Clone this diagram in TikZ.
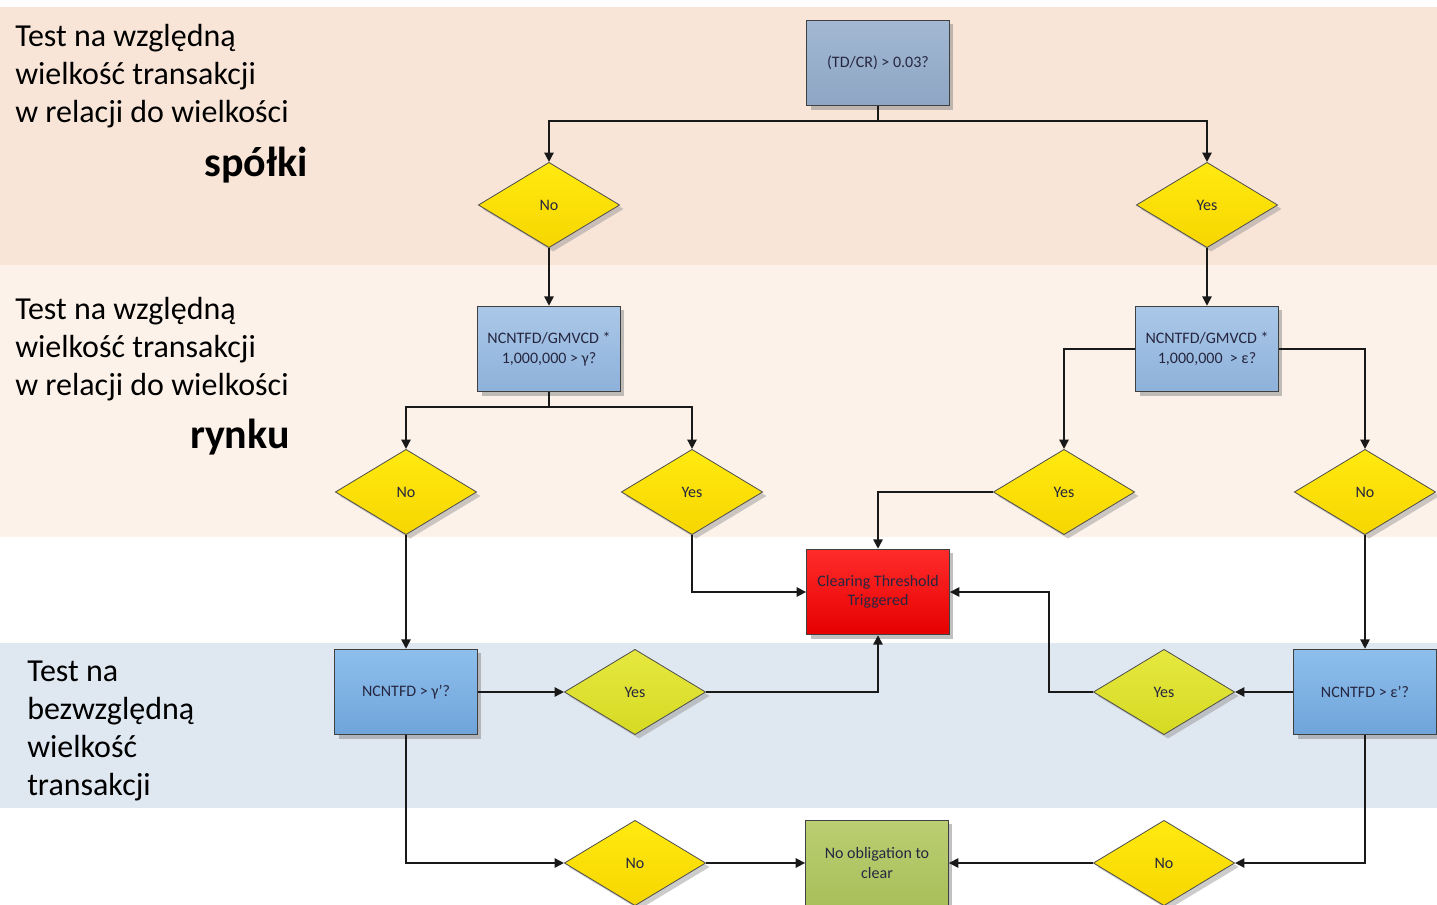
\documentclass[tikz,border=0pt]{standalone}
\usepackage{fontspec}
\setmainfont{Carlito}
\usetikzlibrary{arrows.meta,shapes.geometric,shadows,calc}
\definecolor{BandTop}{HTML}{F9E5D7}
\definecolor{BandMid}{HTML}{FDF2E9}
\definecolor{BandLow}{HTML}{DFE7F1}
\definecolor{BoxGrey}{HTML}{A2B8D2}
\definecolor{BoxGreyD}{HTML}{8EA6C4}
\definecolor{BoxBlue}{HTML}{AAC8E8}
\definecolor{BoxBlueD}{HTML}{8EB1DA}
\definecolor{BoxSky}{HTML}{8EBFEC}
\definecolor{BoxSkyD}{HTML}{6FA4DA}
\definecolor{DecYel}{HTML}{FFEA10}
\definecolor{DecYelD}{HTML}{F7D600}
\definecolor{DecLime}{HTML}{E6E840}
\definecolor{DecLimeD}{HTML}{D6DA22}
\definecolor{HitRed}{HTML}{FF2B2B}
\definecolor{HitRedD}{HTML}{E60000}
\definecolor{OkGreen}{HTML}{BBCE72}
\definecolor{OkGreenD}{HTML}{A8BF5A}
\definecolor{InkDark}{HTML}{262640}
\tikzset{
  every node/.style={font=\fontsize{12}{14.5}\selectfont,text=InkDark},
  qbox/.style={rectangle,draw=black!75,line width=0.9pt,minimum width=107pt,
    minimum height=64pt,inner sep=2pt,align=center,
    drop shadow={shadow xshift=3pt,shadow yshift=-3pt,fill=black!45,opacity=.55}},
  dec/.style={diamond,draw=black!70,line width=0.6pt,minimum width=106pt,
    minimum height=64pt,inner sep=0pt,aspect=1.67,top color=DecYel,bottom color=DecYelD,
    drop shadow={shadow xshift=3pt,shadow yshift=-3pt,fill=black!40,opacity=.5}},
  declime/.style={dec,top color=DecLime,bottom color=DecLimeD},
  link/.style={draw=black!90,line width=1.2pt,-{Triangle[length=7pt,width=7pt]}},
  bandtext/.style={anchor=west,align=left,inner sep=0pt,text=black,
    font=\fontsize{24}{28.5}\selectfont},
  bandhead/.style={anchor=east,inner sep=0pt,text=black,
    font=\fontsize{31.5}{34}\selectfont\bfseries}
}
\begin{document}
\begin{tikzpicture}[x=0.75pt,y=-0.75pt]
  \useasboundingbox (0,0) rectangle (1437,905);
  % --- background bands ---
  \fill[BandTop] (0,7) rectangle (1437,265);
  \fill[BandMid] (0,265) rectangle (1437,537);
  \fill[BandLow] (0,643) rectangle (1437,808);
  % --- band captions ---
  \node[bandtext] (capA) at (15,76) {Test na względną\\wielkość transakcji\\w relacji do wielkości};
  \node[bandhead] (capAh) at (308,165) {spółki};
  \node[bandtext] (capB) at (15,349) {Test na względną\\wielkość transakcji\\w relacji do wielkości};
  \node[bandhead] (capBh) at (290,437) {rynku};
  \node[bandtext] (capC) at (27,731) {Test na\\bezwzględną\\wielkość\\transakcji};
  % --- first test: company size ---
  \node[qbox,top color=BoxGrey,bottom color=BoxGreyD] (tdcr) at (878,63) {(TD/CR) > 0.03?};
  \node[dec] (tdcrNo) at (549,205) {No};
  \node[dec] (tdcrYes) at (1207,205) {Yes};
  % --- second test: market size ---
  \node[qbox,top color=BoxBlue,bottom color=BoxBlueD] (mktG) at (549,349) {NCNTFD/GMVCD *\\1,000,000 > γ?};
  \node[qbox,top color=BoxBlue,bottom color=BoxBlueD] (mktE) at (1207,349) {NCNTFD/GMVCD *\\1,000,000 \ > ε?};
  \node[dec] (mktGNo) at (406,492) {No};
  \node[dec] (mktGYes) at (692,492) {Yes};
  \node[dec] (mktEYes) at (1064,492) {Yes};
  \node[dec] (mktENo) at (1365,492) {No};
  % --- outcomes ---
  \node[qbox,top color=HitRed,bottom color=HitRedD] (hit) at (878,592) {Clearing Threshold\\Triggered};
  \node[qbox,top color=OkGreen,bottom color=OkGreenD] (noob) at (877,863) {No obligation to\\clear};
  % --- third test: absolute size ---
  \node[qbox,top color=BoxSky,bottom color=BoxSkyD] (absG) at (406,692) {NCNTFD > γ'?};
  \node[qbox,top color=BoxSky,bottom color=BoxSkyD] (absE) at (1365,692) {NCNTFD > ε'?};
  \node[declime] (absGYes) at (635,692) {Yes};
  \node[declime] (absEYes) at (1164,692) {Yes};
  \node[dec] (absGNo) at (635,863) {No};
  \node[dec] (absENo) at (1164,863) {No};
  % --- connectors ---
  \draw[link] (tdcr.south) -- ++(0,15) -| (tdcrNo.north);
  \draw[link] (tdcr.south) -- ++(0,15) -| (tdcrYes.north);
  \draw[link] (tdcrNo.south) -- (mktG.north);
  \draw[link] (tdcrYes.south) -- (mktE.north);
  \draw[link] (mktG.south) -- ++(0,15) -| (mktGNo.north);
  \draw[link] (mktG.south) -- ++(0,15) -| (mktGYes.north);
  \draw[link] (mktE.west) -| (mktEYes.north);
  \draw[link] (mktE.east) -| (mktENo.north);
  \draw[link] (mktGYes.south) |- (hit.west);
  \draw[link] (mktEYes.west) -| (hit.north);
  \draw[link] (mktGNo.south) -- (absG.north);
  \draw[link] (mktENo.south) -- (absE.north);
  \draw[link] (absG.east) -- (absGYes.west);
  \draw[link] (absGYes.east) -| (hit.south);
  \draw[link] (absE.west) -- (absEYes.east);
  \draw[link] (absEYes.west) -- ++(-44,0) |- (hit.east);
  \draw[link] (absG.south) |- (absGNo.west);
  \draw[link] (absGNo.east) -- (noob.west);
  \draw[link] (absE.south) |- (absENo.east);
  \draw[link] (absENo.west) -- (noob.east);
\end{tikzpicture}
\end{document}
